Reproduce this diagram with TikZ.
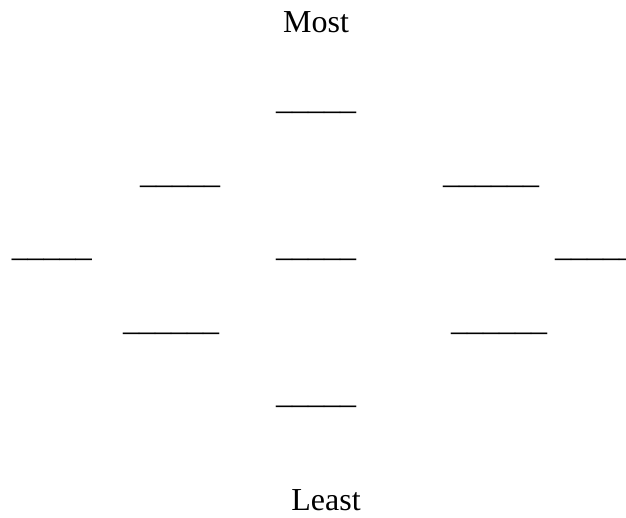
\documentclass[tikz,border=0pt]{standalone}
\usepackage{fontspec}
\setmainfont{Liberation Serif}
\begin{document}
\begin{tikzpicture}[x=1pt,y=1pt,
  txt/.style={inner sep=0pt,outer sep=0pt,anchor=base,font=\fontsize{32}{38}\selectfont},
  blank/.style={inner sep=0pt,outer sep=0pt,anchor=base west,font=\fontsize{32}{38}\selectfont}]
  \useasboundingbox (0,0) rectangle (626,518);
  \clip (0,0) rectangle (626,518);
  % labels at the two ends of the ranking
  \node[txt] (most) at (316,485) {Most};
  \node[txt] (least) at (326,7) {Least};
  % blanks arranged as a diamond, top to bottom
  \node[blank] (b1) at (276,408.5) {\_\_\_\_\_};
  \node[blank] (b2l) at (140,334.5) {\_\_\_\_\_};
  \node[blank] (b2r) at (443,334.5) {\_\_\_\_\_\_};
  \node[blank] (b3l) at (12,261.5) {\_\_\_\_\_};
  \node[blank] (b3c) at (276,261.5) {\_\_\_\_\_};
  \node[blank] (b3r) at (555,261.5) {\_\_\_\_\_};
  \node[blank] (b4l) at (123,187.5) {\_\_\_\_\_\_};
  \node[blank] (b4r) at (451,187.5) {\_\_\_\_\_\_};
  \node[blank] (b5) at (276,114.5) {\_\_\_\_\_};
\end{tikzpicture}
\end{document}
